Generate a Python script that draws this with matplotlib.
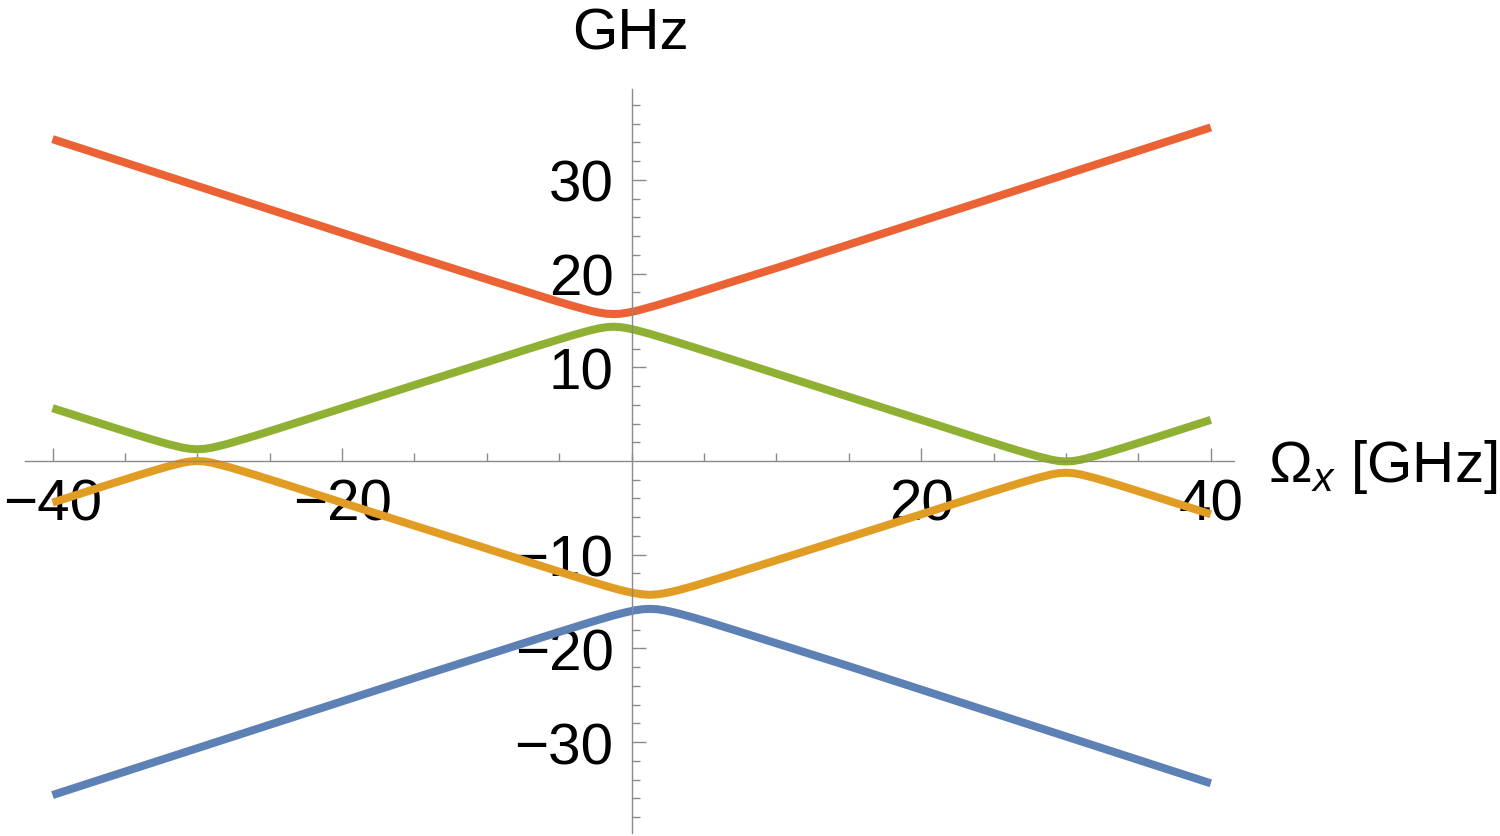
import matplotlib.pyplot as plt
from matplotlib.ticker import FixedLocator

# Omega_x grid [GHz]
omega = [-40, -36, -34, -33, -32, -31, -30.5, -30, -29.5, -29, -28, -27, -26, -24,
         -20, -15, -10, -7.25, -5.25, -4.25, -3.25, -2.75, -2.25, -1.75, -1.25,
         -0.75, -0.25, 0.25, 0.75, 1.25, 1.75, 2.25, 2.75, 3.25, 4.25, 5.25, 7.25,
         10, 15, 20, 24, 26, 27, 28, 29, 29.5, 30, 30.5, 31, 32, 33, 34, 36, 40]

# eigen-energies [GHz]
level_red = [34.35, 32.35, 31.35, 30.85, 30.35, 29.85, 29.6, 29.35, 29.1, 28.85, 28.35,
             27.85, 27.35, 26.35, 24.35, 21.85, 19.4, 18.06, 17.09, 16.63, 16.20, 16.00,
             15.84, 15.72, 15.68, 15.72, 15.84, 16.00, 16.20, 16.41, 16.63, 16.86, 17.09,
             17.33, 17.81, 18.30, 19.28, 20.6, 23.1, 25.6, 27.6, 28.6, 29.1, 29.6, 30.1,
             30.35, 30.6, 30.85, 31.1, 31.6, 32.1, 32.6, 33.6, 35.6]
level_green = [5.64, 3.67, 2.70, 2.24, 1.79, 1.42, 1.30, 1.25, 1.30, 1.42, 1.79, 2.24,
               2.70, 3.67, 5.64, 8.1, 10.55, 11.91, 12.87, 13.34, 13.78, 13.98, 14.16,
               14.28, 14.33, 14.28, 14.16, 13.98, 13.78, 13.57, 13.34, 13.11, 12.87,
               12.63, 12.15, 11.66, 10.68, 9.32, 6.85, 4.39, 2.41, 1.44, 0.97, 0.52,
               0.13, 0.0, -0.05, 0.0, 0.13, 0.52, 0.97, 1.44, 2.41, 4.39]
level_orange = [-4.44, -2.46, -1.49, -1.02, -0.57, -0.18, -0.05, 0.0, -0.05, -0.18,
                -0.57, -1.02, -1.49, -2.46, -4.44, -6.9, -9.35, -10.71, -11.69, -12.18,
                -12.65, -12.89, -13.12, -13.35, -13.57, -13.78, -13.96, -14.12, -14.23,
                -14.28, -14.23, -14.12, -13.96, -13.78, -13.35, -12.89, -11.93, -10.59,
                -8.15, -5.69, -3.71, -2.74, -2.27, -1.82, -1.43, -1.30, -1.25, -1.30,
                -1.43, -1.82, -2.27, -2.74, -3.71, -5.69]
level_blue = [-35.65, -33.65, -32.65, -32.15, -31.65, -31.15, -30.9, -30.65, -30.4,
              -30.15, -29.65, -29.15, -28.65, -27.65, -25.65, -23.15, -20.70, -19.34,
              -18.36, -17.88, -17.40, -17.16, -16.93, -16.70, -16.48, -16.28, -16.09,
              -15.93, -15.82, -15.78, -15.82, -15.93, -16.09, -16.28, -16.70, -17.16,
              -18.12, -19.46, -21.9, -24.4, -26.4, -27.4, -27.9, -28.4, -28.9, -29.15,
              -29.4, -29.65, -29.9, -30.4, -30.9, -31.4, -32.4, -34.4]

x_major = [-40, -20, 20, 40]
x_minor = [-35, -30, -25, -15, -10, -5, 0, 5, 10, 15, 25, 30, 35]
y_major = [-30, -20, -10, 10, 20, 30]
y_minor = [v for v in range(-38, 39, 2) if v % 10 != 0]

plt.rcParams['font.family'] = ['Liberation Sans', 'DejaVu Sans']
plt.rcParams['mathtext.fontset'] = 'custom'
plt.rcParams['mathtext.rm'] = 'Liberation Sans'
plt.rcParams['mathtext.it'] = 'Liberation Sans:italic'

W, H = 1500, 837
fig = plt.figure(figsize=(W / 100, H / 100), dpi=100)
ax = fig.add_axes([25 / W, 3 / H, 1209 / W, 744 / H])

lw = 5.8
ax.plot(omega, level_blue, color='#5E81B5', lw=lw, solid_capstyle='butt', solid_joinstyle='round')
ax.plot(omega, level_orange, color='#E19C24', lw=lw, solid_capstyle='butt', solid_joinstyle='round')
ax.plot(omega, level_green, color='#8FB032', lw=lw, solid_capstyle='butt', solid_joinstyle='round')
ax.plot(omega, level_red, color='#EB6235', lw=lw, solid_capstyle='butt', solid_joinstyle='round')

ax.set_xlim(-41.9, 41.6)
ax.set_ylim(-39.7, 39.7)

for side in ['top', 'right']:
    ax.spines[side].set_visible(False)
for side in ['left', 'bottom']:
    ax.spines[side].set_position('zero')
    ax.spines[side].set_color('#8a8a8a')
    ax.spines[side].set_linewidth(1.0)

ax.xaxis.set_major_locator(FixedLocator(x_major))
ax.xaxis.set_minor_locator(FixedLocator(x_minor))
ax.yaxis.set_major_locator(FixedLocator(y_major))
ax.yaxis.set_minor_locator(FixedLocator(y_minor))

ax.tick_params(axis='both', which='both', direction='in', color='#8a8a8a', width=1.0,
               labelsize=42, labelcolor='black')
ax.tick_params(axis='x', which='major', length=9.5, pad=12)
ax.tick_params(axis='x', which='minor', length=6)
ax.tick_params(axis='y', which='major', length=10, pad=13)
ax.tick_params(axis='y', which='minor', length=6)

ax.set_facecolor('none')
fig.text(630 / W, 1 - 35 / H, 'GHz', fontsize=42, ha='center', va='center')
fig.text(1268 / W, 1 - 482 / H, r'$\Omega_x$ [GHz]', fontsize=42, ha='left', va='baseline')

fig.savefig('out.png', dpi=100)
